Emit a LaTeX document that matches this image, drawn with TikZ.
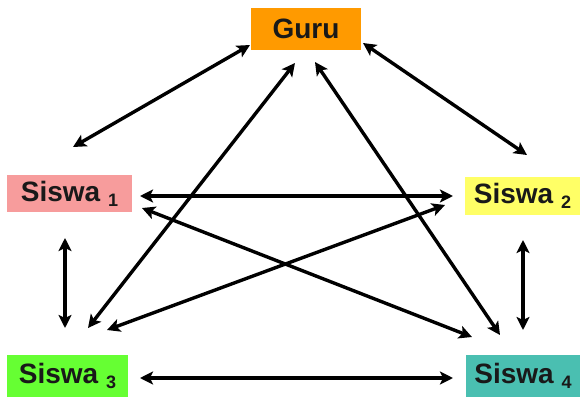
\documentclass[tikz,border=0pt]{standalone}
\usepackage{fontspec}
\setmainfont{Liberation Sans}
\usetikzlibrary{arrows.meta}
\definecolor{guruc}{HTML}{FF9A00}
\definecolor{s1c}{HTML}{F79C9C}
\definecolor{s2c}{HTML}{FFFF66}
\definecolor{s3c}{HTML}{66FF33}
\definecolor{s4c}{HTML}{4ABFB1}
\newcommand{\subidx}[1]{\raisebox{-5pt}{\fontsize{18}{20}\selectfont #1}}
\tikzset{
  box/.style={inner sep=0pt, font=\fontsize{28}{32}\selectfont\bfseries, text=black!90},
  arr/.style={line width=3.4pt, {Stealth[length=13pt,width=13pt,inset=3pt]}-{Stealth[length=13pt,width=13pt,inset=3pt]}}
}
\begin{document}
\begin{tikzpicture}[x=1pt,y=-1pt]
\useasboundingbox (0,0) rectangle (582,400);
\fill[white] (0,0) rectangle (582,400);
\node[box, fill=guruc, minimum width=110pt, minimum height=42pt] (g) at (306,29) {Guru};
\node[box, fill=s1c, minimum width=125pt, minimum height=37pt] (s1) at (69.5,193.5) {Siswa \subidx{1}};
\node[box, fill=s2c, minimum width=115pt, minimum height=38pt] (s2) at (522.5,196) {Siswa \subidx{2}};
\node[box, fill=s3c, minimum width=121pt, minimum height=42pt] (s3) at (67.5,376) {Siswa \subidx{3}};
\node[box, fill=s4c, minimum width=114pt, minimum height=42pt] (s4) at (523,376) {Siswa \subidx{4}};
% connectors
\draw[arr] ([shift={(-56,16)}]g.center) -- ([shift={(3.5,-46.5)}]s1.center);
\draw[arr] ([shift={(57,14)}]g.center) -- ([shift={(4.5,-41)}]s2.center);
\draw[arr] ([shift={(-11,34)}]g.center) -- ([shift={(20.5,-48)}]s3.center);
\draw[arr] ([shift={(9,33)}]g.center) -- ([shift={(-23,-41)}]s4.center);
\draw[arr] ([shift={(70.5,2.5)}]s1.center) -- ([shift={(-69.5,0)}]s2.center);
\draw[arr] ([shift={(72.5,14.5)}]s1.center) -- ([shift={(-51,-39)}]s4.center);
\draw[arr] ([shift={(-77.5,9)}]s2.center) -- ([shift={(39.5,-46)}]s3.center);
\draw[arr] ([shift={(-4.5,44.5)}]s1.center) -- ([shift={(-2.5,-48)}]s3.center);
\draw[arr] ([shift={(0.5,44)}]s2.center) -- ([shift={(0,-46)}]s4.center);
\draw[arr] ([shift={(72.5,2)}]s3.center) -- ([shift={(-70,2)}]s4.center);
\end{tikzpicture}
\end{document}
